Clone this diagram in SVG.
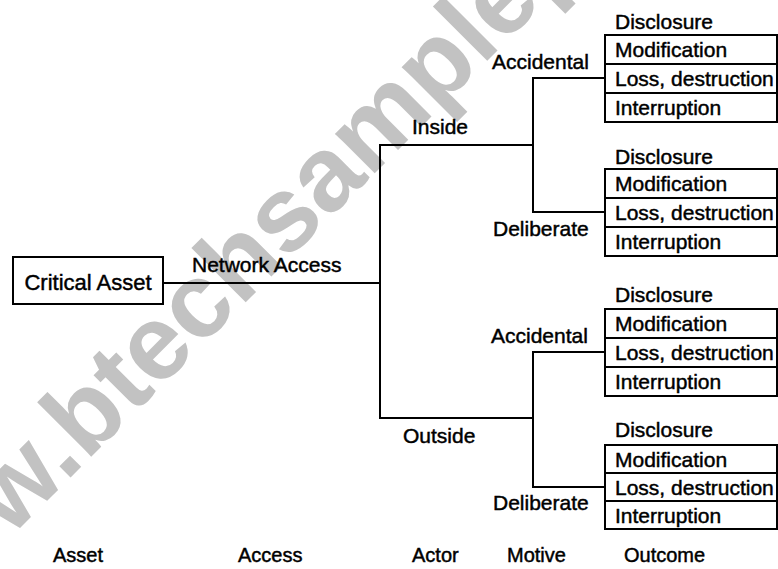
<svg xmlns="http://www.w3.org/2000/svg" width="778" height="569" viewBox="0 0 778 569">
<style>
  text { font-family: "Liberation Sans", Arial, sans-serif; font-size: 21px; fill: #000; stroke: #000; stroke-width: 0.45; }
  .wm { font-weight: bold; font-size: 106px; fill: #c2c2c2; stroke: none; }
  .ax { font-size: 20px; }
  .box { fill: none; stroke: #000; stroke-width: 2; }
  .ln { fill: none; stroke: #000; stroke-width: 2; stroke-linecap: square; }
</style>
<rect width="778" height="569" fill="#fff"/>
<text class="wm" transform="translate(10,538) rotate(-45)">w.btechsamplep</text>

<g id="connectors">
  <path class="ln" d="M163 283 H380"/>
  <path class="ln" d="M380 145 V418"/>
  <path class="ln" d="M380 145 H533"/>
  <path class="ln" d="M380 418 H533"/>
  <path class="ln" d="M533 78 V212"/>
  <path class="ln" d="M533 352 V487"/>
  <path class="ln" d="M533 78 H605"/>
  <path class="ln" d="M533 212 H605"/>
  <path class="ln" d="M533 352 H605"/>
  <path class="ln" d="M533 487 H605"/>
</g>

<g id="asset">
  <rect class="box" x="13" y="257" width="150" height="47"/>
  <text x="88" y="290" text-anchor="middle" style="font-size:22px">Critical Asset</text>
</g>
<g id="access-label"><text x="192" y="272">Network Access</text></g>
<g id="actor-inside"><text x="412" y="134">Inside</text></g>
<g id="actor-outside"><text x="403" y="443">Outside</text></g>
<g id="motive-inside-accidental"><text x="492" y="69">Accidental</text></g>
<g id="motive-inside-deliberate"><text x="493" y="236">Deliberate</text></g>
<g id="motive-outside-accidental"><text x="491" y="343">Accidental</text></g>
<g id="motive-outside-deliberate"><text x="493" y="510">Deliberate</text></g>

<g id="outcome-1">
  <text x="615" y="29">Disclosure</text>
  <rect class="box" x="605" y="35" width="172" height="87"/>
  <path class="ln" d="M605 64 H777 M605 93 H777"/>
  <text x="615" y="57">Modification</text>
  <text x="615" y="86">Loss, destruction</text>
  <text x="615" y="115">Interruption</text>
</g>
<g id="outcome-2">
  <text x="615" y="164">Disclosure</text>
  <rect class="box" x="605" y="169" width="172" height="87"/>
  <path class="ln" d="M605 198 H777 M605 227 H777"/>
  <text x="615" y="191">Modification</text>
  <text x="615" y="220">Loss, destruction</text>
  <text x="615" y="249">Interruption</text>
</g>
<g id="outcome-3">
  <text x="615" y="302">Disclosure</text>
  <rect class="box" x="605" y="309" width="172" height="87"/>
  <path class="ln" d="M605 338 H777 M605 367 H777"/>
  <text x="615" y="331">Modification</text>
  <text x="615" y="360">Loss, destruction</text>
  <text x="615" y="389">Interruption</text>
</g>
<g id="outcome-4">
  <text x="615" y="437">Disclosure</text>
  <rect class="box" x="605" y="445" width="172" height="84"/>
  <path class="ln" d="M605 473 H777 M605 501 H777"/>
  <text x="615" y="467">Modification</text>
  <text x="615" y="495">Loss, destruction</text>
  <text x="615" y="523">Interruption</text>
</g>

<g id="axis-labels">
  <text class="ax" x="53" y="562">Asset</text>
  <text class="ax" x="238" y="562">Access</text>
  <text class="ax" x="412" y="562">Actor</text>
  <text class="ax" x="507" y="562">Motive</text>
  <text class="ax" x="624" y="562">Outcome</text>
</g>
</svg>
